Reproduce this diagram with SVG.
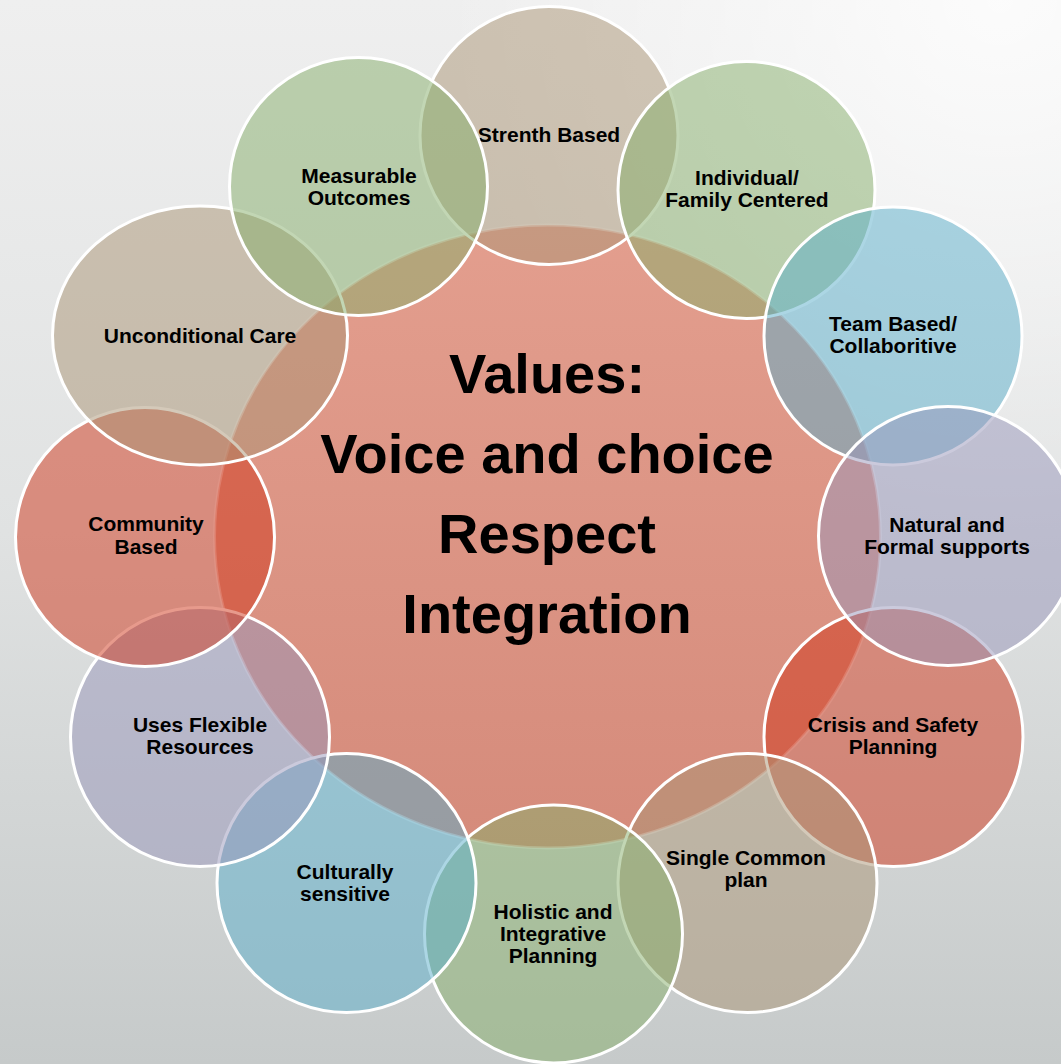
<svg xmlns="http://www.w3.org/2000/svg" width="1061" height="1064" viewBox="0 0 1061 1064">
<defs>
<linearGradient id="bg" x1="0" y1="0" x2="0" y2="1">
<stop offset="0" stop-color="#efefef"/>
<stop offset="0.5" stop-color="#e0e2e2"/>
<stop offset="1" stop-color="#c6caca"/>
</linearGradient>
<radialGradient id="hl" cx="1000" cy="0" r="560" gradientUnits="userSpaceOnUse">
<stop offset="0" stop-color="#ffffff" stop-opacity="0.8"/>
<stop offset="1" stop-color="#ffffff" stop-opacity="0"/>
</radialGradient>
<linearGradient id="core" x1="0" y1="0" x2="0" y2="1">
<stop offset="0" stop-color="#e39e8e"/>
<stop offset="1" stop-color="#d58b7b"/>
</linearGradient>
</defs>
<style>
.c{stroke:#ffffff;stroke-width:3;fill-opacity:0.5}
.tan{fill:#aa9474}
.grn{fill:#86ae6a}
.blu{fill:#5aaeca}
.lav{fill:#9896ba}
.red{fill:#cf3619}
.lbl{font-family:"Liberation Sans",Arial,sans-serif;font-weight:bold;font-size:21px;fill:#000;text-anchor:middle}
.big{font-family:"Liberation Sans",Arial,sans-serif;font-weight:bold;font-size:56px;fill:#000;text-anchor:middle}
</style>
<rect width="1061" height="1064" fill="url(#bg)"/>
<rect width="1061" height="1064" fill="url(#hl)"/>
<g id="values">
<ellipse cx="547.5" cy="536.5" rx="333" ry="311.5" fill="url(#core)" stroke="#ffffff" stroke-opacity="0.45" stroke-width="3"/>
<text class="big" x="547" y="393">Values:</text>
<text class="big" x="547" y="473">Voice and choice</text>
<text class="big" x="547" y="553">Respect</text>
<text class="big" x="547" y="633">Integration</text>
</g>
<g id="strength-based">
<circle class="c tan" cx="549" cy="135.5" r="129"/>
<text class="lbl" x="549" y="142">Strenth Based</text>
</g>
<g id="individual-family">
<circle class="c grn" cx="746.5" cy="190" r="128.5"/>
<text class="lbl" x="747" y="185">Individual/</text>
<text class="lbl" x="747" y="207">Family Centered</text>
</g>
<g id="team-based">
<circle class="c blu" cx="893" cy="336" r="129"/>
<text class="lbl" x="893" y="331">Team Based/</text>
<text class="lbl" x="893" y="353">Collaboritive</text>
</g>
<g id="crisis-safety">
<circle class="c red" cx="893.5" cy="737" r="129.5"/>
<text class="lbl" x="893" y="732">Crisis and Safety</text>
<text class="lbl" x="893" y="754">Planning</text>
</g>
<g id="natural-formal">
<circle class="c lav" cx="948" cy="536" r="129.5"/>
<text class="lbl" x="947" y="532">Natural and</text>
<text class="lbl" x="947" y="554">Formal supports</text>
</g>
<g id="single-plan">
<circle class="c tan" cx="747.5" cy="883" r="129.5"/>
<text class="lbl" x="746" y="865">Single Common</text>
<text class="lbl" x="746" y="887">plan</text>
</g>
<g id="holistic">
<circle class="c grn" cx="553.5" cy="934" r="129"/>
<text class="lbl" x="553" y="919">Holistic and</text>
<text class="lbl" x="553" y="941">Integrative</text>
<text class="lbl" x="553" y="963">Planning</text>
</g>
<g id="culturally-sensitive">
<circle class="c blu" cx="346.5" cy="883" r="129.5"/>
<text class="lbl" x="345" y="879">Culturally</text>
<text class="lbl" x="345" y="901">sensitive</text>
</g>
<g id="flexible-resources">
<circle class="c lav" cx="200" cy="737" r="129.5"/>
<text class="lbl" x="200" y="732">Uses Flexible</text>
<text class="lbl" x="200" y="754">Resources</text>
</g>
<g id="community-based">
<circle class="c red" cx="145" cy="537" r="129.5"/>
<text class="lbl" x="146" y="531">Community</text>
<text class="lbl" x="146" y="554">Based</text>
</g>
<g id="unconditional-care">
<ellipse class="c tan" cx="200" cy="335.5" rx="147.5" ry="129.5"/>
<text class="lbl" x="200" y="343">Unconditional Care</text>
</g>
<g id="measurable-outcomes">
<circle class="c grn" cx="358.5" cy="186.5" r="129"/>
<text class="lbl" x="359" y="183">Measurable</text>
<text class="lbl" x="359" y="205">Outcomes</text>
</g>
<g id="connectors"></g>
</svg>
